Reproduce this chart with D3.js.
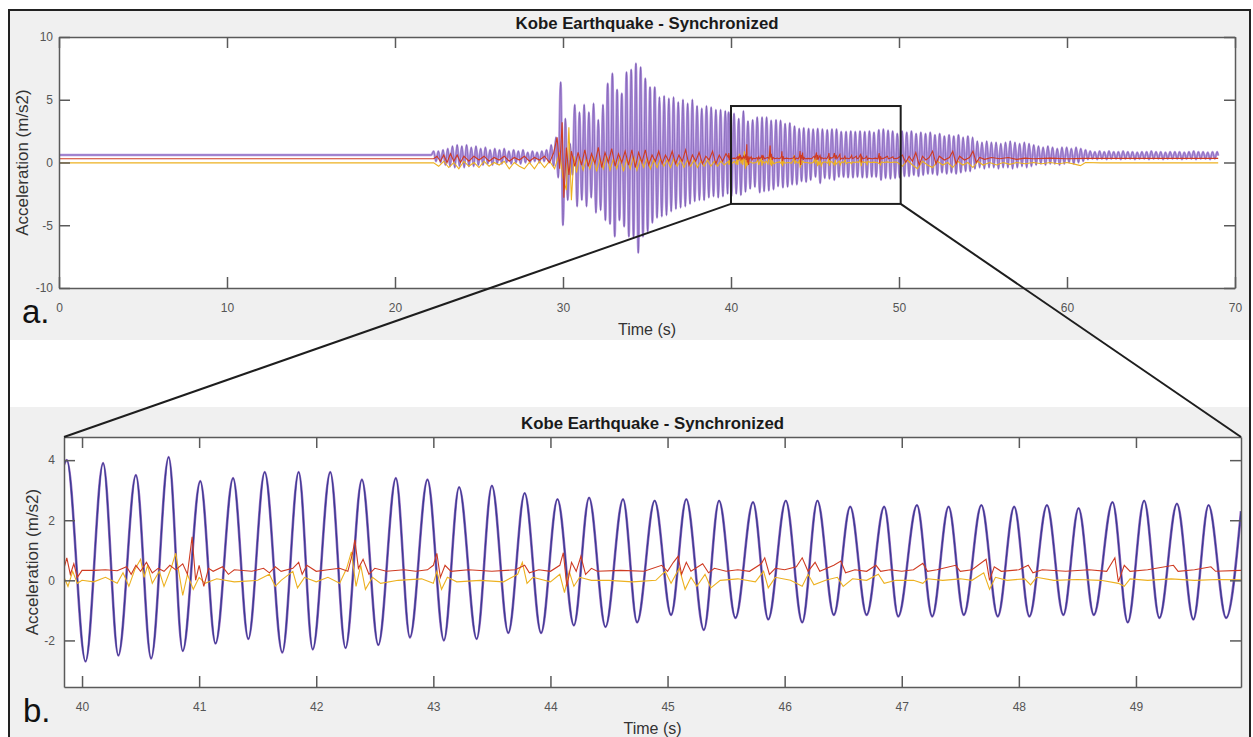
<!DOCTYPE html>
<html>
<head>
<meta charset="utf-8">
<script src="https://cdn.jsdelivr.net/npm/d3@7"></script>
<style>
  body { margin: 0; background: #fff; }
  svg { display: block; font-family: "Liberation Sans", Arial, Helvetica, sans-serif; }
</style>
</head>
<body>
<svg id="chart" width="1253" height="737"></svg>
<script>
// ---- data ----

// axis ticks
const fullXTicks = [0, 10, 20, 30, 40, 50, 60, 70];
const fullYTicks = [-10, -5, 0, 5, 10];
const zoomXTicks = [40, 41, 42, 43, 44, 45, 46, 47, 48, 49];
const zoomYTicks = [-2, 0, 2, 4];

// axis limits
const fullXLim = [0, 70];
const fullYLim = [-10, 10];
const zoomXLim = [39.846, 49.897];
const zoomYLim = [-3.55, 4.77];

// highlighted window drawn on the full record
const boxX = [40, 50.1];
const boxY = [-3.3, 4.5];

// levels of the three records before the shaking starts (0 - 22.3 s)
const quietEnd = 22.3;
const quietPurple = 0.6;
const quietRed = 0.3;
const quietYellow = -0.03;

// purple record, one peak and one trough per cycle
const cyclePeriod = 0.28;
const earlyStart = 22.3;   // first peak
const earlyPeaks = [0.9, 0.9, 1.0, 1.1, 1.3, 1.4, 1.3, 1.4, 1.2, 1.3,
  1.1, 1.2, 1.0, 1.1, 1.0, 1.1, 0.9, 1.0, 0.9, 1.0,
  0.8, 0.9, 0.8, 0.9, 1.0, 1.4, 2.0, 6.4, 3.5, 1.5,
  4.6, 4.0, 4.6, 4.0, 4.7, 3.4, 4.6, 6.3, 7.1, 5.8,
  5.5, 7.2, 7.4, 7.9, 7.6, 6.7, 6.0, 6.0, 5.2, 5.3,
  5.1, 5.2, 4.8, 5.0, 4.7, 5.0, 4.5, 4.3, 4.5, 4.4,
  4.2, 4.2, 4.1];
const earlyTroughs = [0.1, 0.0, -0.2, -0.3, -0.4, -0.3, -0.4, -0.3, -0.3, -0.2,
  -0.2, -0.1, -0.2, -0.1, -0.1, 0.0, -0.1, 0.0, -0.1, 0.0,
  0.0, 0.1, 0.0, 0.1, 0.0, -0.3, -1.2, -5.0, -3.0, -1.0,
  -3.5, -3.0, -3.5, -2.8, -4.0, -3.8, -4.6, -4.9, -5.9, -4.6,
  -5.1, -5.9, -6.0, -7.2, -5.9, -5.5, -4.8, -4.4, -4.3, -4.2,
  -3.9, -3.7, -3.6, -3.5, -3.3, -3.1, -3.0, -3.0, -2.8, -2.7,
  -2.8, -2.7, -2.5];

// window 40-50 s
const zoomEdgeStart = [39.846, 3.85];
const zoomEdgeEnd = [49.897, 2.3];
const zoomPeakT = [39.87, 40.18, 40.46, 40.74, 41.01, 41.29, 41.56, 41.85, 42.12, 42.39,
  42.68, 42.95, 43.22, 43.50, 43.78, 44.06, 44.33, 44.62, 44.89, 45.16,
  45.44, 45.73, 46.01, 46.28, 46.56, 46.85, 47.13, 47.40, 47.68, 47.96,
  48.24, 48.51, 48.80, 49.07, 49.35, 49.62];
const zoomPeakV = [4.0, 3.9, 3.5, 4.1, 3.3, 3.4, 3.6, 3.6, 3.6, 3.35,
  3.4, 3.35, 3.1, 3.15, 2.9, 2.7, 2.75, 2.7, 2.65, 2.7,
  2.65, 2.6, 2.65, 2.65, 2.45, 2.45, 2.5, 2.45, 2.5, 2.45,
  2.5, 2.4, 2.6, 2.65, 2.55, 2.5];
const zoomTroughT = [40.03, 40.31, 40.59, 40.86, 41.14, 41.42, 41.71, 41.97, 42.25, 42.53,
  42.80, 43.09, 43.37, 43.64, 43.92, 44.20, 44.47, 44.74, 45.03, 45.31,
  45.58, 45.86, 46.15, 46.42, 46.70, 46.97, 47.26, 47.53, 47.82, 48.09,
  48.38, 48.64, 48.93, 49.20, 49.49, 49.77];
const zoomTroughV = [-2.7, -2.5, -2.6, -2.35, -2.1, -1.95, -2.4, -2.3, -2.25, -2.15,
  -1.9, -2.0, -1.95, -1.75, -1.75, -1.5, -1.55, -1.4, -1.15, -1.65,
  -1.25, -1.3, -1.4, -1.15, -1.15, -1.2, -1.2, -1.15, -1.2, -1.2,
  -1.15, -1.15, -1.4, -1.25, -1.3, -1.25];

// after the window
const lateStart = 50.04;   // first trough
const lateTroughs = [-1.2, -1.1, -1.1, -1.0, -1.1, -1.0, -0.9,
  -0.9, -1.0, -0.8, -0.9, -0.8, -0.9, -0.8, -0.7, -0.7,
  -0.5, -0.4, -0.5, -0.4, -0.4, -0.5, -0.4, -0.4, -0.5, -0.4, -0.3, -0.4, -0.3,
  -0.2, -0.1, -0.2, -0.1, -0.1, -0.2, -0.1, 0.0, -0.1, 0.0, 0.1,
  0.25, 0.3, 0.25, 0.3, 0.25, 0.3, 0.3, 0.25, 0.3, 0.3, 0.25, 0.3, 0.3, 0.25,
  0.3, 0.3, 0.25, 0.3, 0.3, 0.3, 0.25, 0.3, 0.3, 0.25, 0.3, 0.3, 0.25, 0.3];
const latePeaks = [2.5, 2.4, 2.5, 2.3, 2.4, 2.3, 2.4,
  2.2, 2.3, 2.1, 2.2, 2.1, 2.2, 2.0, 2.1, 2.0,
  1.7, 1.6, 1.7, 1.6, 1.6, 1.5, 1.6, 1.7, 1.6, 1.5, 1.6, 1.5, 1.4,
  1.3, 1.2, 1.3, 1.2, 1.1, 1.2, 1.2, 1.1, 1.2, 1.1, 1.0,
  0.9, 0.85, 0.9, 0.85, 0.9, 0.85, 0.85, 0.9, 0.85, 0.85, 0.8, 0.85, 0.85, 0.9,
  0.85, 0.85, 0.8, 0.85, 0.85, 0.85, 0.8, 0.85, 0.9, 0.85, 0.85, 0.8, 0.85, 0.85];
const recordEnd = [69.0, 0.55];

// red record [time, value]
const redEarly = [[22.5, 0.5], [22.7, 0.1], [22.9, 0.6], [23.1, 0.0], [23.3, 0.7], [23.5, 0.1],
  [23.7, 0.6], [23.9, 0.0], [24.1, 0.5], [24.4, 0.1], [24.7, 0.5], [25.0, 0.2], [25.3, 0.5],
  [25.6, 0.1], [25.9, 0.4], [26.2, 0.2], [26.5, 0.5], [26.8, 0.1], [27.1, 0.4], [27.4, 0.2],
  [27.7, 0.5], [28.0, 0.1], [28.3, 0.4], [28.6, 0.2], [28.9, 0.5], [29.2, 0.0], [29.45, 0.8],
  [29.65, 2.0], [29.8, -0.5], [29.95, 3.2], [30.05, -2.8], [30.2, 1.2], [30.35, -1.0],
  [30.5, 0.9], [30.7, -0.3], [30.9, 0.8], [31.1, -0.2], [31.3, 1.0], [31.5, -0.3], [31.7, 0.7],
  [31.9, -0.1], [32.1, 1.2], [32.3, -0.4], [32.5, 0.8], [32.7, 0.0], [32.9, 1.1], [33.1, -0.3],
  [33.3, 0.7], [33.5, 0.0], [33.7, 0.9], [33.9, -0.2], [34.1, 1.0], [34.3, -0.4], [34.5, 0.8],
  [34.7, 0.0], [34.9, 1.0], [35.1, -0.2], [35.3, 0.6], [35.5, 0.1], [35.7, 0.9], [35.9, -0.1],
  [36.1, 0.6], [36.3, 0.1], [36.5, 0.9], [36.7, -0.1], [36.9, 0.6], [37.1, 0.1], [37.3, 1.0],
  [37.5, -0.2], [37.7, 0.6], [37.9, 0.1], [38.1, 0.8], [38.3, -0.1], [38.5, 0.5], [38.7, 0.2],
  [38.9, 0.9], [39.1, -0.1], [39.3, 0.6], [39.5, 0.1], [39.7, 0.7]];
const redZoom = [[39.846, 0.4], [39.87, 0.75], [39.9, 0.2], [39.93, 0.55], [39.96, 0.1], [40.0, 0.33],
  [40.1, 0.33], [40.2, 0.35], [40.3, 0.32], [40.38, 0.45], [40.42, 0.2], [40.46, 0.5], [40.5, 0.3],
  [40.55, 0.6], [40.6, 0.25], [40.65, 0.4], [40.7, 0.3], [40.75, 0.5], [40.8, 0.35], [40.86, 0.55],
  [40.9, 0.2], [40.94, 1.45], [40.97, 0.0], [41.0, 0.5], [41.04, -0.2], [41.08, 0.4], [41.12, 0.3],
  [41.2, 0.45], [41.25, 0.2], [41.3, 0.35], [41.45, 0.3], [41.55, 0.4], [41.6, 0.25], [41.65, 0.45],
  [41.7, 0.3], [41.8, 0.4], [41.85, 0.6], [41.88, 0.2], [41.92, 0.5], [42.0, 0.3], [42.1, 0.35],
  [42.2, 0.4], [42.27, 0.3], [42.31, 0.9], [42.33, 1.35], [42.36, 0.4], [42.4, 0.7], [42.45, 0.2],
  [42.5, 0.4], [42.6, 0.3], [42.75, 0.35], [42.85, 0.3], [42.95, 0.35], [43.0, 0.5], [43.03, 0.9],
  [43.06, 0.1], [43.1, 0.5], [43.15, 0.3], [43.3, 0.35], [43.5, 0.3], [43.7, 0.35], [43.78, 0.5],
  [43.82, 0.25], [43.9, 0.35], [44.0, 0.3], [44.08, 0.5], [44.11, 0.92], [44.14, -0.2], [44.18, 0.6],
  [44.22, 0.3], [44.26, 0.8], [44.3, 0.2], [44.35, 0.4], [44.4, 0.3], [44.6, 0.33], [44.8, 0.3],
  [44.95, 0.5], [45.0, 0.3], [45.05, 0.6], [45.09, 0.8], [45.12, 0.2], [45.16, 0.6], [45.2, 0.3],
  [45.3, 0.55], [45.35, 0.25], [45.4, 0.4], [45.5, 0.3], [45.6, 0.35], [45.7, 0.3], [45.8, 0.55],
  [45.83, 0.75], [45.87, 0.2], [45.92, 0.4], [46.0, 0.35], [46.1, 0.45], [46.15, 0.75], [46.2, 0.3],
  [46.26, 0.6], [46.3, 0.3], [46.42, 0.5], [46.48, 0.64], [46.52, 0.25], [46.6, 0.35], [46.7, 0.3],
  [46.78, 0.5], [46.82, 0.3], [46.9, 0.35], [47.0, 0.3], [47.1, 0.35], [47.18, 0.57], [47.22, 0.3],
  [47.3, 0.35], [47.46, 0.5], [47.5, 0.3], [47.6, 0.35], [47.72, 0.7], [47.75, 0.0], [47.79, 0.45],
  [47.85, 0.3], [48.0, 0.35], [48.08, 0.5], [48.12, 0.25], [48.2, 0.35], [48.4, 0.3], [48.6, 0.35],
  [48.75, 0.3], [48.82, 0.75], [48.85, -0.05], [48.9, 0.5], [48.95, 0.3], [49.1, 0.35], [49.32, 0.5],
  [49.36, 0.3], [49.5, 0.35], [49.64, 0.45], [49.68, 0.3], [49.897, 0.33]];
const redLate = [[50.2, 0.6], [50.4, 0.0], [50.6, 0.5], [50.8, 0.1], [51.0, 0.8], [51.2, -0.2],
  [51.4, 0.5], [51.6, 0.2], [51.8, 0.4], [52.0, 0.9], [52.2, -0.1], [52.4, 0.5], [52.7, 0.2],
  [53.0, 0.4], [53.2, 0.9], [53.4, -0.1], [53.6, 0.5], [53.9, 0.2], [54.2, 0.4], [54.4, 0.9],
  [54.6, 0.0], [54.8, 0.4], [55.1, 0.25], [55.5, 0.4], [56.0, 0.3], [56.5, 0.4], [57.0, 0.25],
  [57.5, 0.35], [58.0, 0.3], [59.0, 0.35], [60.0, 0.3], [61.0, 0.33], [69.0, 0.33]];

// yellow record [time, value]
const yellowEarly = [[22.6, -0.3], [22.9, 0.1], [23.2, -0.4], [23.5, 0.0], [23.8, -0.5], [24.1, 0.1],
  [24.4, -0.3], [24.7, 0.0], [25.0, -0.4], [25.3, 0.1], [25.6, -0.3], [25.9, 0.0], [26.2, -0.2],
  [26.5, 0.1], [26.8, -0.5], [27.1, 0.0], [27.4, -0.3], [27.7, -0.5], [28.0, 0.0], [28.3, -0.5],
  [28.6, 0.1], [28.9, -0.4], [29.2, 0.1], [29.5, -0.5], [29.8, 0.8], [30.0, -1.2], [30.2, -2.2],
  [30.35, 2.8], [30.5, -3.0], [30.65, 0.5], [30.8, -0.8], [31.0, 0.4], [31.2, -0.6], [31.4, 0.3],
  [31.6, -0.5], [31.8, 0.4], [32.0, -0.7], [32.2, 0.3], [32.4, -0.5], [32.6, 0.5], [32.8, -0.6],
  [33.0, 0.3], [33.2, -0.5], [33.4, 0.4], [33.6, -0.7], [33.8, 0.3], [34.0, -0.5], [34.2, 0.5],
  [34.4, -0.6], [34.6, 0.3], [34.8, -0.4], [35.0, 0.3], [35.2, -0.5], [35.4, 0.2], [35.6, -0.4],
  [35.8, 0.3], [36.0, -0.3], [36.2, 0.2], [36.4, -0.4], [36.6, 0.3], [36.8, -0.3], [37.0, 0.2],
  [37.2, -0.4], [37.4, 0.2], [37.6, -0.3], [37.8, 0.2], [38.0, -0.4], [38.2, 0.1], [38.4, -0.3],
  [38.6, 0.2], [38.8, -0.3], [39.0, 0.1], [39.2, -0.3], [39.4, 0.1], [39.6, -0.2]];
const yellowZoom = [[39.846, 0.1], [39.88, -0.2], [39.92, 0.3], [39.96, -0.1], [40.0, 0.0], [40.1, -0.05],
  [40.2, 0.1], [40.3, -0.1], [40.35, 0.25], [40.4, -0.2], [40.45, 0.35], [40.5, 0.7], [40.53, 0.1],
  [40.56, 0.5], [40.6, -0.1], [40.66, 0.3], [40.7, -0.2], [40.76, 0.4], [40.8, 0.9], [40.83, 0.2],
  [40.86, -0.5], [40.9, 0.2], [40.95, -0.3], [41.0, 0.1], [41.05, -0.1], [41.15, 0.05], [41.3, -0.05],
  [41.5, 0.0], [41.6, 0.2], [41.65, -0.2], [41.7, 0.0], [41.8, 0.3], [41.84, -0.25], [41.9, 0.1],
  [42.0, -0.05], [42.1, 0.1], [42.2, -0.1], [42.26, 0.4], [42.3, 0.95], [42.34, -0.2], [42.38, 0.5],
  [42.42, -0.3], [42.48, 0.1], [42.55, -0.1], [42.7, 0.0], [42.9, 0.05], [43.0, -0.1], [43.03, 0.3],
  [43.07, -0.3], [43.12, 0.1], [43.2, -0.05], [43.4, 0.0], [43.6, -0.05], [43.72, 0.2], [43.76, 0.6],
  [43.8, -0.1], [43.85, 0.1], [44.0, -0.05], [44.08, 0.2], [44.12, -0.41], [44.16, 0.3], [44.2, -0.2],
  [44.25, 0.1], [44.35, 0.0], [44.5, 0.0], [44.7, -0.05], [44.9, 0.0], [44.98, 0.3], [45.03, -0.1],
  [45.1, 0.4], [45.15, -0.3], [45.2, 0.1], [45.25, -0.2], [45.32, 0.2], [45.37, -0.25], [45.45, 0.0],
  [45.6, 0.05], [45.75, -0.05], [45.82, 0.3], [45.86, -0.25], [45.92, 0.1], [46.05, 0.0], [46.15, -0.2],
  [46.2, 0.2], [46.25, -0.15], [46.35, 0.0], [46.45, 0.1], [46.5, -0.2], [46.58, 0.05], [46.7, 0.0],
  [46.8, 0.2], [46.85, -0.1], [46.95, 0.0], [47.1, 0.0], [47.18, -0.1], [47.22, 0.05], [47.35, 0.0],
  [47.5, 0.05], [47.6, 0.0], [47.7, 0.25], [47.75, -0.3], [47.8, 0.1], [47.9, 0.0], [48.05, 0.05],
  [48.1, -0.15], [48.15, 0.1], [48.3, 0.0], [48.5, 0.03], [48.7, 0.0], [48.85, -0.1], [48.9, -0.2],
  [48.95, 0.05], [49.1, 0.0], [49.3, 0.05], [49.5, 0.0], [49.7, 0.03], [49.897, 0.02]];
const yellowLate = [[50.2, -0.3], [50.5, 0.2], [50.8, -0.2], [51.1, -0.5], [51.4, 0.1], [51.7, -0.2],
  [52.0, -0.4], [52.3, 0.1], [52.6, -0.2], [52.9, 0.0], [53.2, -0.4], [53.5, 0.1], [53.8, -0.2],
  [54.1, 0.0], [54.4, -0.4], [54.7, 0.1], [55.0, -0.2], [55.4, 0.0], [55.8, -0.2], [56.2, 0.0],
  [56.6, -0.15], [57.0, 0.0], [57.5, -0.1], [58.0, 0.0], [58.5, -0.1], [59.0, 0.0], [59.5, -0.1],
  [60.0, 0.0], [60.5, -0.15], [60.8, -0.25], [61.1, 0.0], [62.0, -0.03], [69.0, -0.03]];

// ---- build the series ----

// one peak and one trough per cycle, the second half a period after the first
function cycles(start, firstArr, secondArr) {
  const pts = [];
  firstArr.forEach((v, i) => {
    pts.push([start + i * cyclePeriod, v]);
    if (i < secondArr.length) pts.push([start + i * cyclePeriod + cyclePeriod / 2, secondArr[i]]);
  });
  return pts;
}

const purpleZoom = [zoomEdgeStart]
  .concat(zoomPeakT.map((t, i) => [t, zoomPeakV[i]]))
  .concat(zoomTroughT.map((t, i) => [t, zoomTroughV[i]]))
  .concat([zoomEdgeEnd])
  .sort((a, b) => a[0] - b[0]);

const purpleFull = [[0, quietPurple], [quietEnd - 0.14, quietPurple]]
  .concat(cycles(earlyStart, earlyPeaks, earlyTroughs))
  .concat(purpleZoom)
  .concat(cycles(lateStart, lateTroughs, latePeaks))
  .concat([recordEnd]);

const redFull = [[0, quietRed], [quietEnd, quietRed]].concat(redEarly, redZoom, redLate);
const yellowFull = [[0, quietYellow], [quietEnd, quietYellow]].concat(yellowEarly, yellowZoom, yellowLate);

// ---- drawing ----
const svg = d3.select("#chart");

// figure background panels
svg.append("rect").attr("x", 9).attr("y", 10).attr("width", 1241).attr("height", 330).attr("fill", "#f0f0f0");
svg.append("rect").attr("x", 9).attr("y", 407).attr("width", 1241).attr("height", 330).attr("fill", "#f0f0f0");

const axisColor = "#5a5a5a";
const tickLen = 11;

function drawPanel(cfg) {
  const x = d3.scaleLinear().domain(cfg.xLim).range([cfg.left, cfg.right]);
  const y = d3.scaleLinear().domain(cfg.yLim).range([cfg.bottom, cfg.top]);

  svg.append("rect")
    .attr("x", cfg.left).attr("y", cfg.top)
    .attr("width", cfg.right - cfg.left).attr("height", cfg.bottom - cfg.top)
    .attr("fill", "#fff");

  svg.append("clipPath").attr("id", cfg.id + "-clip")
    .append("rect")
    .attr("x", cfg.left).attr("y", cfg.top)
    .attr("width", cfg.right - cfg.left).attr("height", cfg.bottom - cfg.top);

  const plot = svg.append("g").attr("clip-path", `url(#${cfg.id}-clip)`);

  const smooth = d3.line().x(d => x(d[0])).y(d => y(d[1])).curve(d3.curveMonotoneX);
  const jagged = d3.line().x(d => x(d[0])).y(d => y(d[1]));

  // synchronized records: purple under a thinner blue trace
  plot.append("path").datum(cfg.purple)
    .attr("fill", "none").attr("stroke", cfg.purpleColor)
    .attr("stroke-width", cfg.purpleWidth).attr("stroke-linejoin", "round")
    .attr("d", smooth);
  plot.append("path").datum(cfg.purple)
    .attr("fill", "none").attr("stroke", cfg.blueColor)
    .attr("stroke-width", cfg.blueWidth).attr("stroke-opacity", cfg.blueOpacity)
    .attr("d", smooth);
  plot.append("path").datum(cfg.yellow)
    .attr("fill", "none").attr("stroke", "#EDB120").attr("stroke-width", 1.1)
    .attr("d", jagged);
  plot.append("path").datum(cfg.red)
    .attr("fill", "none").attr("stroke", "#cf3b22").attr("stroke-width", 1.1)
    .attr("d", jagged);

  const fmt = d => String(d);

  // MATLAB style box with inward ticks on every side
  const bottomAxis = svg.append("g").attr("transform", `translate(0,${cfg.bottom})`)
    .call(d3.axisBottom(x).tickValues(cfg.xTicks).tickSize(-tickLen).tickSizeOuter(0)
      .tickPadding(15).tickFormat(fmt));
  const topAxis = svg.append("g").attr("transform", `translate(0,${cfg.top})`)
    .call(d3.axisTop(x).tickValues(cfg.xTicks).tickSize(-tickLen).tickSizeOuter(0).tickFormat(""));
  const leftAxis = svg.append("g").attr("transform", `translate(${cfg.left},0)`)
    .call(d3.axisLeft(y).tickValues(cfg.yTicks).tickSize(-tickLen).tickSizeOuter(0)
      .tickPadding(cfg.yPad).tickFormat(fmt));
  const rightAxis = svg.append("g").attr("transform", `translate(${cfg.right},0)`)
    .call(d3.axisRight(y).tickValues(cfg.yTicks).tickSize(-tickLen).tickSizeOuter(0).tickFormat(""));

  [bottomAxis, topAxis, leftAxis, rightAxis].forEach(g => {
    g.selectAll(".domain").attr("stroke", axisColor).attr("stroke-width", 1.5);
    g.selectAll(".tick line").attr("stroke", axisColor).attr("stroke-width", 1.5);
    g.selectAll("text").attr("fill", "#555").style("font-size", "12px")
      .style("font-family", "'Liberation Sans', Arial, sans-serif");
  });

  const midX = (cfg.left + cfg.right) / 2;
  const midY = (cfg.top + cfg.bottom) / 2;

  svg.append("text")
    .attr("x", midX).attr("y", cfg.top - 8)
    .attr("text-anchor", "middle")
    .style("font-size", "16.8px").style("font-weight", "bold").attr("fill", "#1a1a1a")
    .text("Kobe Earthquake - Synchronized");

  svg.append("text")
    .attr("x", midX).attr("y", cfg.bottom + 47)
    .attr("text-anchor", "middle")
    .style("font-size", "16px").attr("fill", "#333")
    .text("Time (s)");

  svg.append("text")
    .attr("transform", `translate(${cfg.yLabelX},${midY}) rotate(-90)`)
    .attr("text-anchor", "middle")
    .style("font-size", "17px").attr("fill", "#333")
    .text("Acceleration (m/s2)");

  svg.append("text")
    .attr("x", cfg.letterX).attr("y", cfg.bottom + 35)
    .style("font-size", "33px").attr("fill", "#111")
    .text(cfg.letter);

  return {x, y};
}

const full = drawPanel({
  id: "full", left: 59, right: 1235, top: 37, bottom: 288,
  xLim: fullXLim, yLim: fullYLim, xTicks: fullXTicks, yTicks: fullYTicks,
  purple: purpleFull, red: redFull, yellow: yellowFull,
  purpleColor: "#b596de", purpleWidth: 2.4,
  blueColor: "#4a2f8c", blueWidth: 0.6, blueOpacity: 0.6,
  yPad: 6, yLabelX: 28, letterX: 22, letter: "a."
});

const zoom = drawPanel({
  id: "zoom", left: 64, right: 1241, top: 437, bottom: 687,
  xLim: zoomXLim, yLim: zoomYLim, xTicks: zoomXTicks, yTicks: zoomYTicks,
  purple: purpleZoom, red: redZoom, yellow: yellowZoom,
  purpleColor: "#9a6cc4", purpleWidth: 2.6,
  blueColor: "#333a8e", blueWidth: 1.3, blueOpacity: 0.95,
  yPad: 9, yLabelX: 38, letterX: 23, letter: "b."
});

// highlighted window and the lines that lead to panel b
const bx0 = full.x(boxX[0]), bx1 = full.x(boxX[1]);
const by0 = full.y(boxY[1]), by1 = full.y(boxY[0]);
svg.append("rect")
  .attr("x", bx0).attr("y", by0).attr("width", bx1 - bx0).attr("height", by1 - by0)
  .attr("fill", "none").attr("stroke", "#1e1e1e").attr("stroke-width", 2);

const connectors = [
  [[bx0, by1], [zoom.x(zoomXLim[0]), zoom.y(zoomYLim[1])]],
  [[bx1, by1], [zoom.x(zoomXLim[1]), zoom.y(zoomYLim[1])]]
];
svg.selectAll(".connector").data(connectors).join("line")
  .attr("class", "connector")
  .attr("x1", d => d[0][0]).attr("y1", d => d[0][1])
  .attr("x2", d => d[1][0]).attr("y2", d => d[1][1])
  .attr("stroke", "#1e1e1e").attr("stroke-width", 2);

// outer frame of the figure
svg.append("path")
  .attr("d", "M9,737 V10 H1250 V737")
  .attr("fill", "none").attr("stroke", "#222").attr("stroke-width", 2);
</script>
</body>
</html>
